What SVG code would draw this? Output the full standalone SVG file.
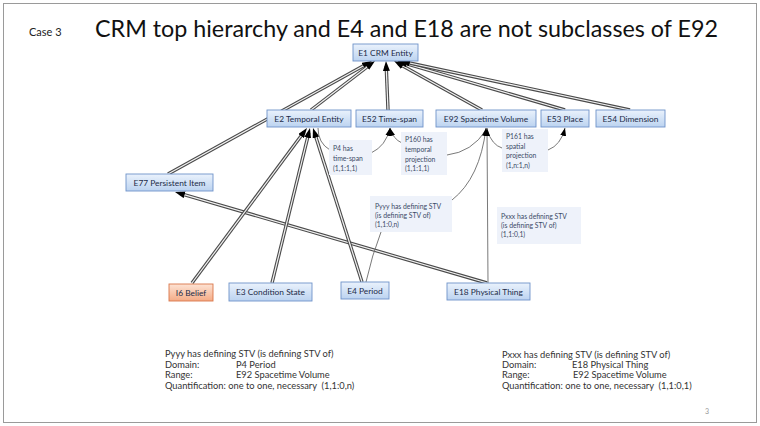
<svg xmlns="http://www.w3.org/2000/svg" width="760" height="426" viewBox="0 0 760 426">
<defs>
<linearGradient id="gb" x1="0" y1="0" x2="0" y2="1"><stop offset="0" stop-color="#eaf2fc"/><stop offset="1" stop-color="#bcd3f0"/></linearGradient>
<linearGradient id="go" x1="0" y1="0" x2="0" y2="1"><stop offset="0" stop-color="#fde3d4"/><stop offset="1" stop-color="#f4ab86"/></linearGradient>
<marker id="ah" markerUnits="userSpaceOnUse" markerWidth="10" markerHeight="7" refX="5" refY="3.5" orient="auto"><path d="M0,0 L10,3.5 L0,7 z" fill="#000"/></marker>
<marker id="ahs" markerUnits="userSpaceOnUse" markerWidth="8" markerHeight="6" refX="8" refY="3" orient="auto"><path d="M0,0 L8,3 L0,6 z" fill="#000"/></marker>
<style>
.node rect{fill:url(#gb);stroke:#6f93c9;stroke-width:0.9}
.node.or rect{fill:url(#go);stroke:#d9774b}
.node text{font-family:Lato,"Noto Sans",sans-serif;font-size:8.4px;fill:#1c2b48;text-anchor:middle}
.lbl rect{fill:#eef2fa}
.lbl text{font-family:Lato,"Noto Sans",sans-serif;font-size:6.8px;fill:#3b4a66}
.o{fill:none;stroke:#4a4a4a;stroke-width:3.4}
.i{fill:none;stroke:#f2f2f2;stroke-width:1.2;marker-end:url(#ah)}
.t{fill:none;stroke:#6a6a6a;stroke-width:0.9}
.ta{marker-end:url(#ahs)}
.note{font-family:Lato,"Noto Sans",sans-serif;font-size:9.3px;fill:#333}
</style>
<path id="c1" d="M168,174 L367.6,63.4"/>
<path id="c2" d="M311,110 L371,64"/>
<path id="c3" d="M388,110 L386.2,66"/>
<path id="c4" d="M482,110 L398.4,63.4"/>
<path id="c5" d="M565,110 L401.8,62.4"/>
<path id="c6" d="M630,110 L404.9,62"/>
<path id="c7" d="M192,283 L304,132"/>
<path id="c8" d="M272,283 L308.8,132.9"/>
<path id="c9" d="M362,282 L314.5,132.8"/>
<path id="c10" d="M487,283 L179.8,193.4"/>
</defs>
<rect x="3.5" y="3.5" width="753" height="419" fill="#fff" stroke="#9a9a9a" stroke-width="1"/>
<text x="29" y="36" font-family="Lato,'Noto Sans',sans-serif" font-size="11" fill="#222">Case 3</text>
<text x="95" y="37" font-family="Lato,'Noto Sans',sans-serif" font-size="23.3" fill="#111">CRM top hierarchy and E4 and E18 are not subclasses of E92</text>
<g id="connectors">
<use href="#c1" class="o"/><use href="#c1" class="i"/>
<use href="#c2" class="o"/><use href="#c2" class="i"/>
<use href="#c3" class="o"/><use href="#c3" class="i"/>
<use href="#c4" class="o"/><use href="#c4" class="i"/>
<use href="#c5" class="o"/><use href="#c5" class="i"/>
<use href="#c6" class="o"/><use href="#c6" class="i"/>
<use href="#c10" class="o"/><use href="#c10" class="i"/>
<use href="#c7" class="o"/><use href="#c7" class="i"/>
<use href="#c8" class="o"/><use href="#c8" class="i"/>
<use href="#c9" class="o"/><use href="#c9" class="i"/>
<path class="t" d="M318,128 Q318,143 330,150"/>
<path class="t ta" d="M371,153 Q386,146 390,128"/>
<path class="t" d="M486,130 Q472,152 447,155"/>
<path class="t ta" d="M402,143 Q393,139 390,128"/>
<path class="t" d="M487,130 Q492,145 502,148"/>
<path class="t ta" d="M548,150 Q561,145 565,128"/>
<path class="t" d="M366,282 Q372,255 381,232"/>
<path class="t ta" d="M452,200 Q480,178 486,128"/>
<path class="t ta" d="M488,283 L487,128"/>
</g>
<g id="lbl-p4" class="lbl"><rect x="329" y="140" width="43" height="35"/><text x="333" y="151">P4 has</text><text x="333" y="161">time-span</text><text x="333" y="171">(1,1:1,1)</text></g>
<g id="lbl-p160" class="lbl"><rect x="401" y="132" width="46" height="43"/><text x="405" y="142">P160 has</text><text x="405" y="152">temporal</text><text x="405" y="161.5">projection</text><text x="405" y="171">(1,1:1,1)</text></g>
<g id="lbl-p161" class="lbl"><rect x="502" y="129" width="46" height="43"/><text x="506" y="139">P161 has</text><text x="506" y="148.5">spatial</text><text x="506" y="158">projection</text><text x="506" y="167.5">(1,n:1,n)</text></g>
<g id="lbl-pyyy" class="lbl"><rect x="370" y="196" width="82" height="36"/><text x="375" y="208.5">Pyyy has defining STV</text><text x="375" y="218">(is defining STV of)</text><text x="375" y="227">(1,1:0,n)</text></g>
<g id="lbl-pxxx" class="lbl"><rect x="497" y="207" width="84" height="37"/><text x="501" y="219">Pxxx has defining STV</text><text x="501" y="228">(is defining STV of)</text><text x="501" y="237">(1,1:0,1)</text></g>
<g id="E1" class="node"><rect x="353" y="44" width="65" height="17"/><text x="385.5" y="55.5">E1 CRM Entity</text></g>
<g id="E2" class="node"><rect x="267" y="110" width="84" height="17"/><text x="309" y="121.5">E2 Temporal Entity</text></g>
<g id="E52" class="node"><rect x="356" y="110" width="67" height="17"/><text x="389.5" y="121.5">E52 Time-span</text></g>
<g id="E92" class="node"><rect x="436" y="110" width="100" height="17"/><text x="486" y="121.5">E92 Spacetime Volume</text></g>
<g id="E53" class="node"><rect x="541" y="110" width="48" height="17"/><text x="565" y="121.5">E53 Place</text></g>
<g id="E54" class="node"><rect x="596" y="110" width="69" height="17"/><text x="630.5" y="121.5">E54 Dimension</text></g>
<g id="E77" class="node"><rect x="126" y="174" width="87" height="17"/><text x="169.5" y="185.5">E77 Persistent Item</text></g>
<g id="I6" class="node or"><rect x="169" y="284" width="44" height="17"/><text x="191" y="295.5">I6 Belief</text></g>
<g id="E3" class="node"><rect x="229" y="283" width="83" height="18"/><text x="270.5" y="295">E3 Condition State</text></g>
<g id="E4" class="node"><rect x="341" y="282" width="48" height="17"/><text x="365" y="293.5">E4 Period</text></g>
<g id="E18" class="node"><rect x="447" y="283" width="83" height="17"/><text x="488.5" y="294.5">E18 Physical Thing</text></g>
<g id="note-left" class="note">
<text x="165" y="357">Pyyy has defining STV (is defining STV of)</text>
<text x="165" y="367.5">Domain:</text><text x="236" y="367.5">P4 Period</text>
<text x="165" y="378">Range:</text><text x="236" y="378">E92 Spacetime Volume</text>
<text x="165" y="388.5">Quantification: one to one, necessary&#160; (1,1:0,n)</text>
</g>
<g id="note-right" class="note">
<text x="502" y="357.5">Pxxx has defining STV (is defining STV of)</text>
<text x="502" y="368">Domain:</text><text x="572" y="368">E18 Physical Thing</text>
<text x="502" y="378">Range:</text><text x="573" y="378">E92 Spacetime Volume</text>
<text x="502" y="388.5">Quantification: one to one, necessary&#160; (1,1:0,1)</text>
</g>
<text x="705" y="414" font-family="Lato,'Noto Sans',sans-serif" font-size="7" fill="#999">3</text>
</svg>
